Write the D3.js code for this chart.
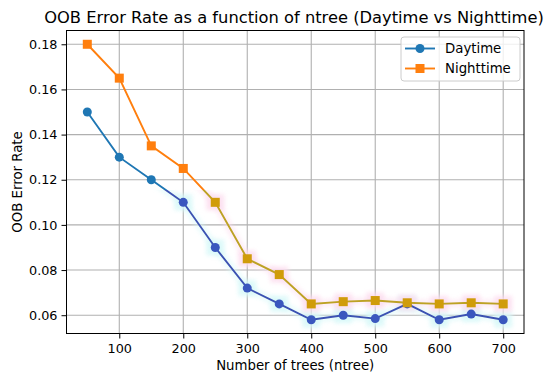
<!DOCTYPE html>
<html><head><meta charset="utf-8">
<script src="https://cdn.jsdelivr.net/npm/d3@7"></script>
<style>body{margin:0;background:#fff}svg{display:block}text{font-family:"DejaVu Sans",sans-serif;fill:#000}</style>
</head><body><div id="c"></div>
<script>
const ntree = [50,100,150,200,250,300,350,400,450,500,550,600,650,700];
const daytime = [0.150,0.130,0.120,0.110,0.090,0.072,0.065,0.058,0.060,0.0585,0.065,0.058,0.0605,0.058];
const nighttime = [0.180,0.165,0.135,0.125,0.110,0.085,0.078,0.065,0.066,0.0665,0.0655,0.065,0.0655,0.065];
const xTicks = [100,200,300,400,500,600,700];
const yTicks = [0.06,0.08,0.10,0.12,0.14,0.16,0.18];
const title = "OOB Error Rate as a function of ntree (Daytime vs Nighttime)";
const xLabel = "Number of trees (ntree)";
const yLabel = "OOB Error Rate";
const seriesNames = ["Daytime","Nighttime"];

const W=550,H=377;
const L=66.5,R=524,T=30.5,B=333.5;
const svg=d3.select("#c").append("svg").attr("width",W).attr("height",H);
const defs=svg.append("defs");
defs.append("filter").attr("id","blur").attr("x","-50%").attr("y","-50%").attr("width","200%").attr("height","200%")
  .append("feGaussianBlur").attr("stdDeviation",2);
const thrY=190;
defs.append("clipPath").attr("id","low").append("rect").attr("x",L).attr("y",thrY).attr("width",R-L).attr("height",B-thrY);
defs.append("clipPath").attr("id","high").append("rect").attr("x",L).attr("y",T).attr("width",R-L).attr("height",thrY-T);

const x=d3.scaleLinear().domain([17.5,732.5]).range([L,R]);
const y=d3.scaleLinear().domain([0.0519,0.1861]).range([B,T]);

// grid
const g=svg.append("g");
g.selectAll(".gx").data(xTicks).join("line").attr("x1",d=>x(d)).attr("x2",d=>x(d)).attr("y1",T).attr("y2",B)
 .attr("stroke","#b0b0b0").attr("stroke-width",1.1);
g.selectAll(".gy").data(yTicks).join("line").attr("y1",d=>y(d)).attr("y2",d=>y(d)).attr("x1",L).attr("x2",R)
 .attr("stroke","#b0b0b0").attr("stroke-width",1.1);

// axes
const xa=svg.append("g").attr("transform",`translate(0,${B})`).call(d3.axisBottom(x).tickValues(xTicks).tickSize(5).tickPadding(4).tickFormat(d3.format("d")));
const ya=svg.append("g").attr("transform",`translate(${L},0)`).call(d3.axisLeft(y).tickValues(yTicks).tickSize(5).tickPadding(4).tickFormat(d3.format(".2f")));
[xa,ya].forEach(a=>{a.select(".domain").remove();a.selectAll("text").attr("font-size","12.8px").attr("font-family","DejaVu Sans");a.selectAll("line").attr("stroke","#000").attr("stroke-width",1);});
xa.selectAll("text").attr("dy","0.85em");

const series=[
 {name:seriesNames[0],vals:daytime,col:"#1f77b4",alt:"#3a57be",altLine:"#3c52b2",halo:"#d6f8f8",shape:"circle"},
 {name:seriesNames[1],vals:nighttime,col:"#ff7f0e",alt:"#d09c0a",altLine:"#bda224",halo:"#fcdcee",shape:"square"}
];
const line=d3.line().x((d,i)=>x(ntree[i])).y(d=>y(d));
function marker(sel,s,fill){
  if(s.shape==="circle") sel.append("circle").attr("cx",d=>x(d.n)).attr("cy",d=>y(d.v)).attr("r",4.5).attr("fill",fill);
  else sel.append("rect").attr("x",d=>x(d.n)-4.5).attr("y",d=>y(d.v)-4.5).attr("width",9).attr("height",9).attr("fill",fill);
}
const plot=svg.append("g");
series.forEach(s=>{
  const pts=s.vals.map((v,i)=>({n:ntree[i],v}));
  plot.append("path").datum(s.vals).attr("d",line).attr("fill","none").attr("stroke",s.halo).attr("stroke-width",8)
    .attr("opacity",0.5).attr("filter","url(#blur)").attr("clip-path","url(#low)");
  plot.append("g").selectAll("rect").data(pts.filter(p=>y(p.v)>thrY)).join("rect")
    .attr("x",d=>x(d.n)-9).attr("y",d=>y(d.v)-8).attr("width",18).attr("height",16).attr("fill",s.halo)
    .attr("opacity",0.8).attr("filter","url(#blur)");
});
series.forEach(s=>{
  const pts=s.vals.map((v,i)=>({n:ntree[i],v}));
  plot.append("path").datum(s.vals).attr("d",line).attr("fill","none").attr("stroke",s.col).attr("stroke-width",1.9).attr("clip-path","url(#high)");
  plot.append("path").datum(s.vals).attr("d",line).attr("fill","none").attr("stroke",s.altLine).attr("stroke-width",1.9).attr("clip-path","url(#low)");
  const hi=plot.append("g").selectAll("g").data(pts.filter(p=>y(p.v)<=thrY)).join("g");
  marker(hi,s,s.col);
  const lo=plot.append("g").selectAll("g").data(pts.filter(p=>y(p.v)>thrY)).join("g");
  marker(lo,s,s.alt);
});

// spines
svg.append("rect").attr("x",L).attr("y",T).attr("width",R-L).attr("height",B-T).attr("fill","none").attr("stroke","#000").attr("stroke-width",1);

// legend
const lg=svg.append("g");
lg.append("rect").attr("x",401).attr("y",37).attr("width",119).attr("height",44).attr("rx",3)
  .attr("fill","#fff").attr("fill-opacity",0.8).attr("stroke","#cccccc").attr("stroke-width",1);
series.forEach((s,i)=>{
  const yy=48.5+i*20;
  lg.append("line").attr("x1",405).attr("x2",435).attr("y1",yy).attr("y2",yy).attr("stroke",s.col).attr("stroke-width",1.9);
  if(s.shape==="circle") lg.append("circle").attr("cx",420).attr("cy",yy).attr("r",4.5).attr("fill",s.col);
  else lg.append("rect").attr("x",420-4.5).attr("y",yy-4.5).attr("width",9).attr("height",9).attr("fill",s.col);
  lg.append("text").attr("x",445).attr("y",yy).attr("dy","0.36em").attr("font-size","13.3px").text(s.name);
});

// labels
svg.append("text").attr("x",294).attr("y",22.7).attr("text-anchor","middle").attr("font-size","16.3px").text(title);
svg.append("text").attr("x",(L+R)/2).attr("y",370).attr("text-anchor","middle").attr("font-size","13.3px").text(xLabel);
svg.append("text").attr("transform",`translate(22,${(T+B)/2}) rotate(-90)`).attr("text-anchor","middle").attr("font-size","13.3px").text(yLabel);
</script></body></html>
